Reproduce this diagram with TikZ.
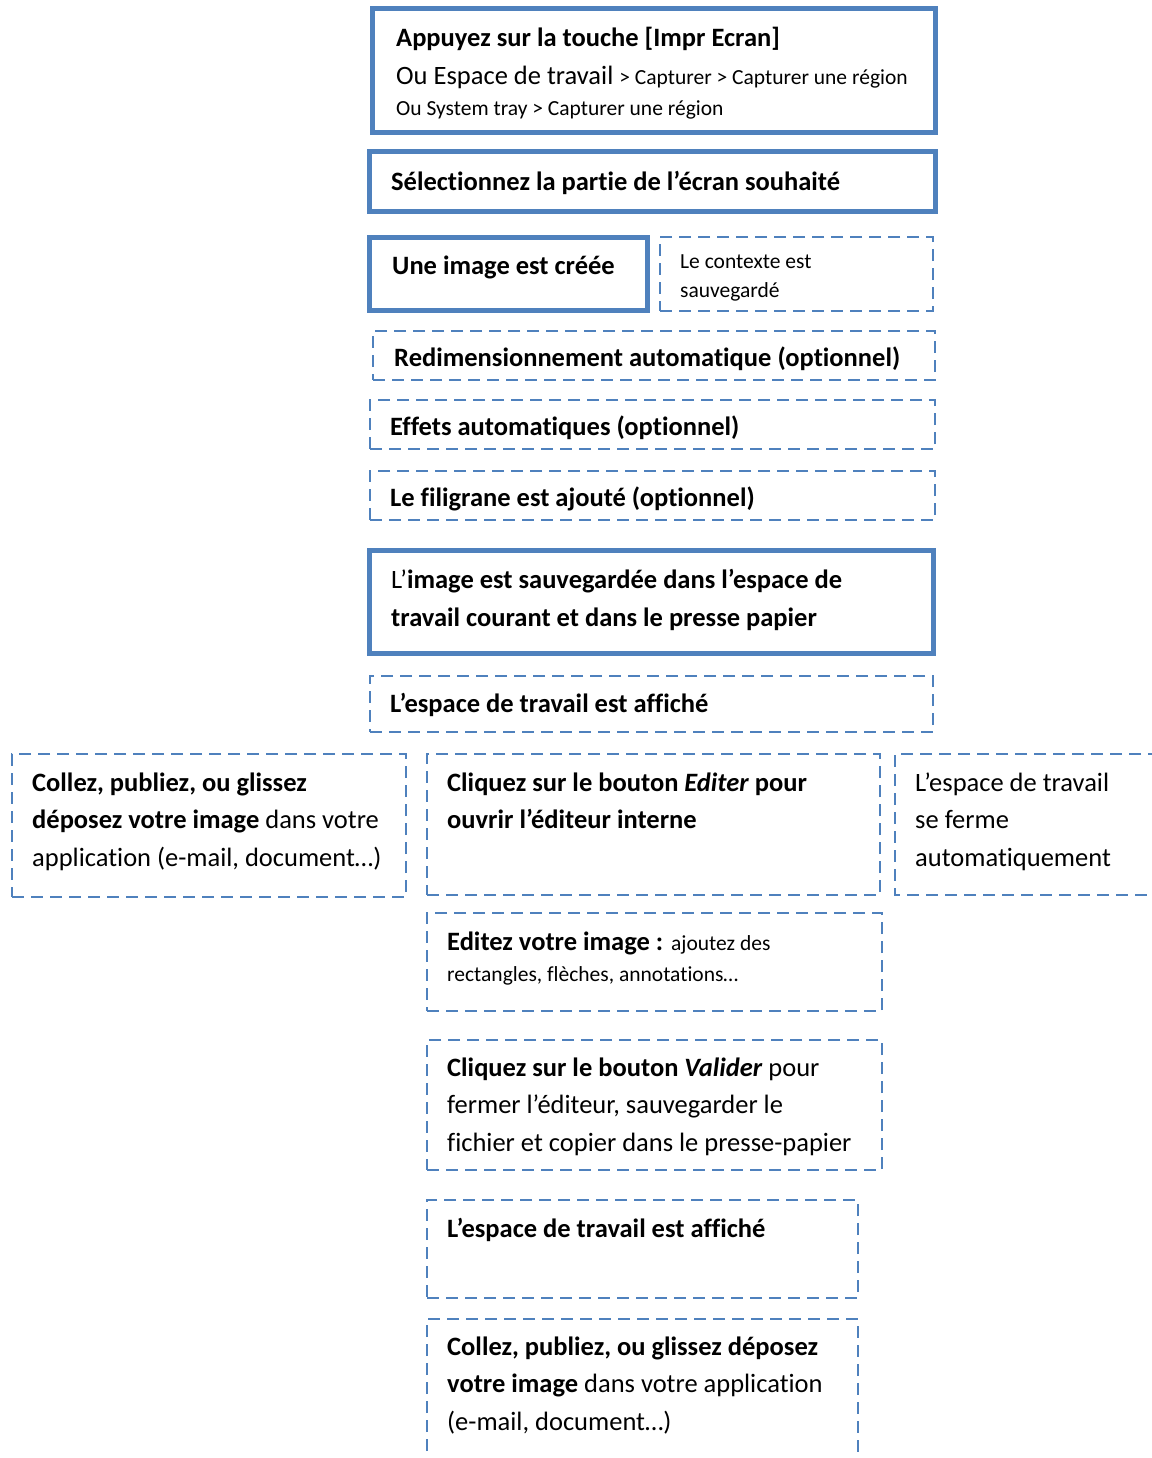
\documentclass[tikz,border=0pt]{standalone}
\usepackage{fontspec}
\setmainfont{Carlito}[Ligatures={TeX,NoCommon}]
\definecolor{wblue}{HTML}{4F81BD}
\tikzset{
  solidbox/.style={draw=wblue, line width=5.5pt, inner sep=0pt},
  dashbox/.style={draw=wblue, line width=2.5pt, dash pattern=on 12pt off 7pt, inner sep=0pt},
  dashline/.style={draw=wblue, line width=2.5pt, dash pattern=on 12pt off 7pt},
  txt/.style={anchor=base west, inner sep=0pt, font=\fontsize{26.5}{30}\selectfont},
  stxt/.style={anchor=base west, inner sep=0pt, font=\fontsize{21.5}{25}\selectfont},
}
\newcommand{\smallpart}{\fontsize{21.5}{25}\selectfont}
\newcommand{\bx}[6]{% style, name, x1, y1, x2, y2 (centre line)
  \node[#1, minimum width={(#5-#3)*1pt}, minimum height={(#6-#4)*1pt}] (#2) at ({(#3+#5)/2},{(#4+#6)/2}) {};}
\begin{document}
\begin{tikzpicture}[x=1pt,y=-1pt]
\useasboundingbox (0,0) rectangle (1151,1458);
% boxes
\bx{solidbox}{A}{372.5}{8.5}{935.5}{132.5}
\bx{solidbox}{B}{369.5}{151.5}{935.5}{211.5}
\bx{solidbox}{C}{369.5}{237.5}{647.5}{310.5}
\bx{dashbox}{D}{660}{237}{933}{311}
\bx{dashbox}{E}{373}{331}{935}{380}
\bx{dashbox}{F}{370}{400}{935}{449}
\bx{dashbox}{G}{370}{471}{935}{520}
\bx{solidbox}{H}{369.5}{550.5}{933.5}{653.5}
\bx{dashbox}{I}{370}{676}{933}{732}
\bx{dashbox}{J}{12}{754}{406}{897}
\bx{dashbox}{K}{427}{754}{880}{895}
\coordinate (L1) at (1160,754);
\coordinate (L2) at (895,754);
\coordinate (L3) at (895,895);
\coordinate (L4) at (1160,895);
\draw[dashline] (L1) -- (L2) -- (L3) -- (L4);
\bx{dashbox}{M}{427}{913}{882}{1011}
\bx{dashbox}{N}{427}{1040}{882}{1170}
\bx{dashbox}{O}{427}{1200}{858}{1298}
\coordinate (P1) at (427,1470);
\coordinate (P2) at (427,1319);
\coordinate (P3) at (858,1319);
\coordinate (P4) at (858,1470);
\draw[dashline] (P1) -- (P2) -- (P3) -- (P4);
% texts
\node[txt] (tA1) at (396,47) {\textbf{Appuyez sur la touche [Impr Ecran]}};
\node[txt] (tA2) at (396,85) {Ou Espace de travail {\smallpart > Capturer > Capturer une région}};
\node[stxt] (tA3) at (396,116) {Ou System tray > Capturer une région};
\node[txt] (tB) at (391,190) {\textbf{Sélectionnez la partie de l’écran souhaité}};
\node[txt] (tC) at (392,274) {\textbf{Une image est créée}};
\node[stxt] (tD1) at (680,268) {Le contexte est};
\node[stxt] (tD2) at (680,297) {sauvegardé};
\node[txt] (tE) at (394,366) {\textbf{Redimensionnement automatique (optionnel)}};
\node[txt] (tF) at (390,435) {\textbf{Effets automatiques (optionnel)}};
\node[txt] (tG) at (390,506) {\textbf{Le filigrane est ajouté (optionnel)}};
\node[txt] (tH1) at (391,588) {L’\textbf{image est sauvegardée dans l’espace de}};
\node[txt] (tH2) at (391,626) {\textbf{travail courant et dans le presse papier}};
\node[txt] (tI) at (390,712) {\textbf{L’espace de travail est affiché}};
\node[txt] (tJ1) at (32,791) {\textbf{Collez, publiez, ou glissez}};
\node[txt] (tJ2) at (32,828.5) {\textbf{déposez votre image} dans votre};
\node[txt] (tJ3) at (32,866) {application (e-mail, document…)};
\node[txt] (tK1) at (447,791) {\textbf{Cliquez sur le bouton \textit{Editer} pour}};
\node[txt] (tK2) at (447,828.5) {\textbf{ouvrir l’éditeur interne}};
\node[txt] (tL1) at (915,791) {L’espace de travail};
\node[txt] (tL2) at (915,828.5) {se ferme};
\node[txt] (tL3) at (915,866) {automatiquement};
\node[txt] (tM1) at (447,950) {\textbf{Editez votre image :} {\smallpart ajoutez des}};
\node[stxt] (tM2) at (447,981) {rectangles, flèches, annotations…};
\node[txt] (tN1) at (447,1076) {\textbf{Cliquez sur le bouton \textit{Valider}} pour};
\node[txt] (tN2) at (447,1113.5) {fermer l’éditeur, sauvegarder le};
\node[txt] (tN3) at (447,1151) {fichier et copier dans le presse-papier};
\node[txt] (tO) at (447,1237) {\textbf{L’espace de travail est affiché}};
\node[txt] (tP1) at (447,1355) {\textbf{Collez, publiez, ou glissez déposez}};
\node[txt] (tP2) at (447,1392.5) {\textbf{votre image} dans votre application};
\node[txt] (tP3) at (447,1430) {(e-mail, document…)};
\end{tikzpicture}
\end{document}
